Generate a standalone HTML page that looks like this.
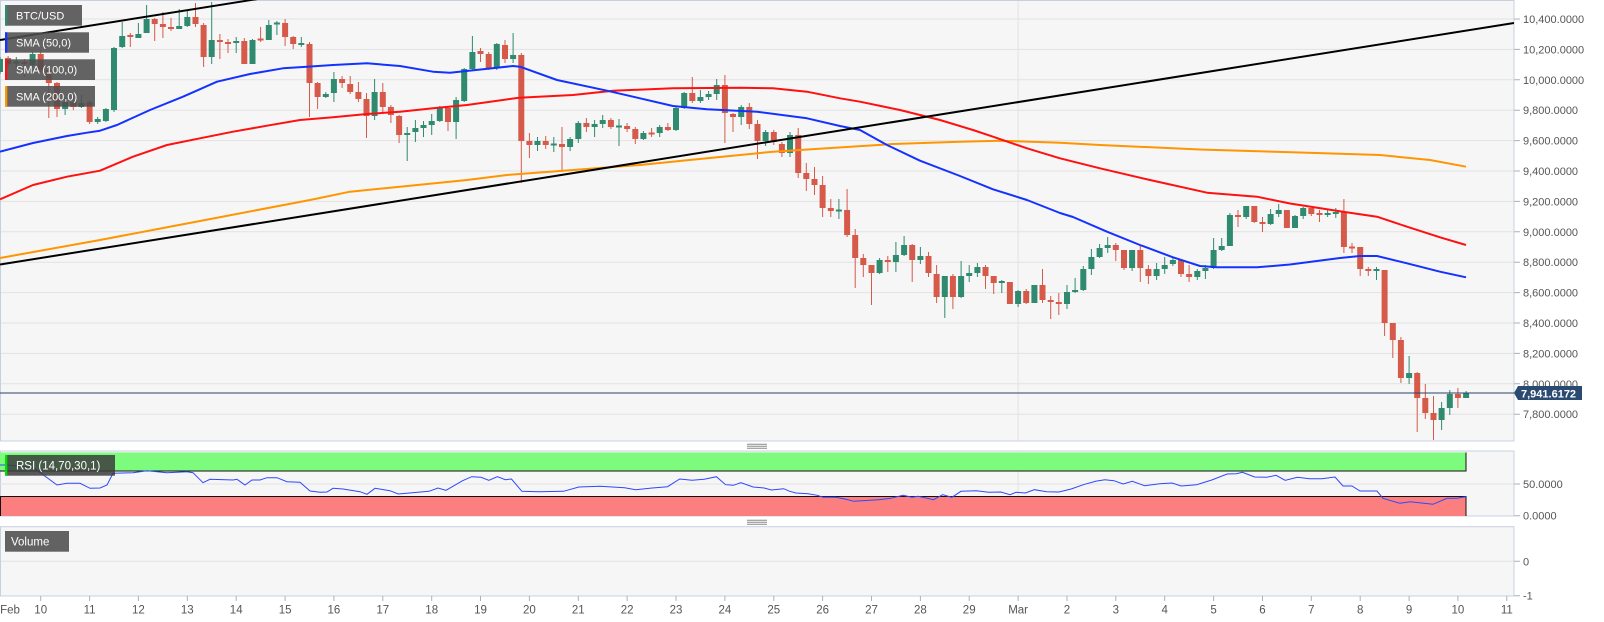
<!DOCTYPE html>
<html><head><meta charset="utf-8"><style>
html,body{margin:0;padding:0;background:#fff;}
svg{display:block;}
text{font-family:"Liberation Sans",Arial,sans-serif;}
</style></head><body>
<svg width="1604" height="622" viewBox="0 0 1604 622" xmlns="http://www.w3.org/2000/svg">
<defs>
<clipPath id="cm"><rect x="0" y="0" width="1514" height="441"/></clipPath>
<clipPath id="cr"><rect x="0" y="451" width="1514" height="65"/></clipPath>
</defs>
<rect x="0" y="0" width="1604" height="622" fill="#fff"/>
<!-- main pane -->
<rect x="0.5" y="0.5" width="1513.5" height="440.5" fill="#f6f6f6" stroke="#c8d0e0"/>
<g stroke="#e2e2e2" stroke-width="1">
<path d="M1 19H1514M1 49.4H1514M1 79.8H1514M1 110.2H1514M1 140.6H1514M1 171H1514M1 201.4H1514M1 231.8H1514M1 262.2H1514M1 292.6H1514M1 323H1514M1 353.4H1514M1 383.8H1514M1 414.2H1514"/>
<path d="M1018.1 1V441M1018.1 451V516M1018.1 527V596"/>
</g>
<g clip-path="url(#cm)">
<path fill="none" stroke="#2f8a6f" stroke-width="1" d="M0 57V74M16.3 57V68M32.6 52V67M65.1 97V115M81.4 95V108M97.7 117V124M105.9 108V122M114 47V112M122.2 22V48M138.4 23V38M146.6 5V33M179.2 9V29M187.3 10V27M211.7 2V64M236.2 37V53M252.5 39V64M268.8 20V40M276.9 21V35M301.3 37V47M325.8 92V98M333.9 72V102M374.6 79V120M407.2 127V161M415.4 120V142M423.5 121V137M431.7 114V135M439.8 106V122M456.1 97V139M464.2 68V102M472.4 36V71M496.8 43V70M513.1 33V63M537.5 137V151M553.8 137V152M570.1 137V151M578.3 121V143M594.6 120V137M602.7 115V128M619 119V146M643.4 131V140M659.7 125V137M676 107V131M684.2 92V109M700.4 90V103M708.6 91V100M716.7 79V100M741.2 105V125M765.6 130V146M790 132V157M838.9 199V219M879.6 258V274M895.9 242V272M904.1 236V256M920.4 247V264M944.8 276V318M961.1 261V298M969.2 265V282M977.4 263V277M1001.8 280V293M1018.1 290V307M1034.4 285V303M1067 285V309M1075.1 278V293M1083.3 266V291M1091.4 249V275M1099.6 244V258M1107.7 237V253M1132.1 250V271M1156.6 263V280M1164.7 257V274M1172.9 257V266M1197.3 269V280M1205.4 265V279M1213.6 238V269M1221.7 238V251M1229.9 213V246M1246.2 206V219M1270.6 209V225M1278.7 204V217M1295 215V228M1303.2 207V219M1327.6 209V217M1335.8 208V218M1376.5 267V280M1409.1 356V384M1441.6 402V430M1449.8 390V415M1466.1 391V398"/>
<path fill="none" stroke="#2f8a6f" stroke-width="6" d="M0 59V72M16.3 61.5V63.5M32.6 54V65M65.1 102V109M81.4 103V107M97.7 119V122M105.9 109V121M114 48V110M122.2 36V47M138.4 34V38M146.6 19V33M179.2 26V29M187.3 17V26M211.7 40V57M236.2 41V43M252.5 40V64M268.8 25V40M276.9 22.5V24.5M301.3 43V45M325.8 94V97M333.9 79V93M374.6 92V116M407.2 133V135M415.4 128V132M423.5 125V128M431.7 121V125M439.8 108V121M456.1 100V122M464.2 69V101M472.4 52V69M496.8 44V68M513.1 55V59M537.5 141V145M553.8 143.5V145.5M570.1 139V147M578.3 123V139M594.6 124V127M602.7 120V124M619 125.5V127.5M643.4 133V139M659.7 127V133M676 108V130M684.2 93V108M700.4 97V101M708.6 94V97M716.7 85V94M741.2 107V117M765.6 132V141M790 135V153M838.9 209.5V211.5M879.6 260V273M895.9 255V262M904.1 245V255M920.4 256V260M944.8 276V297M961.1 276V297M969.2 273V276M977.4 267V273M1001.8 281V283M1018.1 291V304M1034.4 285V303M1067 292V304M1075.1 290V292M1083.3 269V290M1091.4 257V269M1099.6 248V257M1107.7 245V248M1132.1 250V268M1156.6 269V276M1164.7 265V269M1172.9 260V264M1197.3 271V277M1205.4 268V271M1213.6 250V268M1221.7 246V250M1229.9 215V246M1246.2 206V217M1270.6 214V224M1278.7 210V214M1295 216V228M1303.2 208V216M1327.6 213V215M1335.8 212V214M1376.5 269V271M1409.1 373V378M1441.6 408V420M1449.8 394V408M1466.1 393V398"/>
<path fill="none" stroke="#d65a4a" stroke-width="1" d="M8.1 56V67M24.4 59V77M40.7 50V72M48.8 68V118M57 82V117M73.3 97V110M89.6 100V124M130.3 33V47M154.7 18V41M162.9 12V38M171 18V31M195.5 3V27M203.6 23V67M219.9 34V59M228 39V53M244.3 38V64M260.6 27V42M285.1 19V46M293.2 36V49M309.5 42V117M317.6 82V109M342.1 76V88M350.2 76V94M358.4 82V102M366.5 93V138M382.8 83V114M390.9 105V123M399.1 115V143M448 106V131M480.5 48V62M488.7 52V70M505 40V63M521.3 53V183M529.4 133V158M545.7 136V149M562 127V172M586.4 118V132M610.9 118V129M627.1 123V132M635.3 127V144M651.6 128V137M667.9 123V131M692.3 77V103M724.9 75V143M733 113V132M749.3 103V129M757.5 120V159M773.8 130V145M781.9 142V157M798.2 128V178M806.3 163V191M814.5 167V195M822.6 176V217M830.8 199V217M847.1 189V237M855.2 229V288M863.3 254V277M871.5 265V305M887.8 256V272M912.2 244V282M928.5 252V277M936.6 265V303M952.9 274V309M985.5 265V289M993.7 276V294M1009.9 282V304M1026.2 289V304M1042.5 269V303M1050.7 296V319M1058.8 293V315M1115.8 243V261M1124 250V270M1140.3 245V282M1148.4 265V284M1181 259V277M1189.1 265V282M1238 210V227M1254.3 206V223M1262.5 217V232M1286.9 210V228M1311.3 208V216M1319.5 210V222M1343.9 199V253M1352 243V253M1360.2 247V276M1368.3 267V276M1384.6 270V336M1392.8 323V358M1400.9 337V383M1417.2 372V432M1425.3 384V419M1433.5 396V440M1457.9 388V408"/>
<path fill="none" stroke="#d65a4a" stroke-width="6" d="M8.1 58V64M24.4 62V64M40.7 54V70M48.8 70V83M57 83V109M73.3 102V107M89.6 102V122M130.3 35V37M154.7 19V24M162.9 24V27M171 27V29M195.5 17V24M203.6 25V57M219.9 40V42M228 42V44M244.3 41V64M260.6 38.5V40.5M285.1 23V37M293.2 37V44M309.5 44V83M317.6 83V97M342.1 79V83M350.2 84V92M358.4 92V99M366.5 99V116M382.8 92V107M390.9 107V115M399.1 116V135M448 108V122M480.5 51V54M488.7 54V68M505 45V59M521.3 55V141M529.4 141V145M545.7 141V145M562 144V147M586.4 123V127M610.9 120V127M627.1 126V129M635.3 129V139M651.6 132.5V134.5M667.9 127V130M692.3 93V101M724.9 85V113M733 114V117M749.3 107V124M757.5 124V141M773.8 132V142M781.9 144V153M798.2 135V173M806.3 173V179M814.5 179V185M822.6 185V208M830.8 208V211M847.1 210V235M855.2 235V258M863.3 258V265M871.5 265V273M887.8 260V262M912.2 245V260M928.5 256V273M936.6 274V297M952.9 276V297M985.5 267V276M993.7 276V283M1009.9 282V304M1026.2 291V303M1042.5 285V300M1050.7 300V302M1058.8 302V304M1115.8 245V250M1124 250V268M1140.3 250V268M1148.4 269V276M1181 260V274M1189.1 274V277M1238 215V217M1254.3 206V222M1262.5 222V224M1286.9 210V228M1311.3 208V214M1319.5 213V215M1343.9 212V247M1352 246.5V248.5M1360.2 247V269M1368.3 269V271M1384.6 270V323M1392.8 323V340M1400.9 340V378M1417.2 373V398M1425.3 398V413M1433.5 413V420M1457.9 394V398"/>
<!-- SMA lines -->
<polyline fill="none" stroke="#ff9500" stroke-width="2" stroke-linejoin="round" points="0,258 100,240 200,221 310,200 350,191.7 400,186.7 467,180 507,175 573,170 640,165 707,158.3 773,151.7 827,148.3 893,144 960,141.7 1000,140.7 1060,142.7 1100,145 1200,149.5 1300,152.5 1380,155 1430,160 1466,166.7"/>
<polyline fill="none" stroke="#ff1010" stroke-width="2" stroke-linejoin="round" points="0,199.3 33,185 67,176.7 100,170.7 133,156.7 167,145 200,138.3 233,131.7 267,125.7 300,120 333,117.3 367,114 400,111.7 433,108.3 467,105 519,97.7 573,95 613,90.7 673,88.3 740,87.7 773,88.3 807,91.7 840,98.3 860,101.7 900,110 940,120 973,130 993,136.7 1027,148.3 1060,158.3 1100,168.3 1150,180 1207,192.7 1257,196.7 1290,203.5 1343,211.7 1377,216.7 1407,226.7 1440,237.3 1466,245"/>
<polyline fill="none" stroke="#1432ff" stroke-width="2" stroke-linejoin="round" points="0,151.7 33,143 67,136 87,132.7 100,130.7 117,125 150,110 183,96.7 217,81.7 250,74 283,68.3 307,66.7 333,65 367,63.3 400,66 433,71.7 450,72.7 483,69.3 513,66 520,66.7 557,80 607,90.7 640,98.3 673,106 707,109.3 757,111.7 807,118.3 840,126 860,130 887,145 920,160.7 960,176 993,189.3 1027,200 1060,213 1073,217 1107,231.7 1140,245 1173,257.3 1200,266 1217,267.3 1257,267.3 1290,264.5 1340,258 1360,256 1377,256 1407,263.3 1440,271.7 1466,277.3"/>
<!-- trend lines -->
<line x1="0" y1="264.5" x2="1514" y2="23" stroke="#000" stroke-width="2"/>
<line x1="0" y1="40" x2="262" y2="-1.7" stroke="#000" stroke-width="2"/>
<!-- current price line -->
<line x1="0" y1="393" x2="1514" y2="393" stroke="#2a4368" stroke-width="1"/>
</g>
<!-- legends -->
<rect x="5" y="5" width="77" height="20.7" fill="rgba(78,78,78,0.88)"/>
<rect x="5" y="5" width="2.3" height="20.7" fill="#2f8a6f"/>
<text x="16" y="19.3" font-size="11" fill="#fff">BTC/USD</text>
<rect x="5" y="32.3" width="84" height="20.4" fill="rgba(78,78,78,0.88)"/>
<rect x="5" y="32.3" width="2.3" height="20.4" fill="#1432ff"/>
<text x="16" y="46.5" font-size="11" fill="#fff">SMA (50,0)</text>
<rect x="5" y="59.3" width="90" height="20.7" fill="rgba(78,78,78,0.88)"/>
<rect x="5" y="59.3" width="2.3" height="20.7" fill="#ff1010"/>
<text x="16" y="73.6" font-size="11" fill="#fff">SMA (100,0)</text>
<rect x="5" y="86" width="90" height="20.7" fill="rgba(78,78,78,0.88)"/>
<rect x="5" y="86" width="2.3" height="20.7" fill="#ff9500"/>
<text x="16" y="100.3" font-size="11" fill="#fff">SMA (200,0)</text>
<!-- pane handles -->
<path d="M747 444.3H767M747 446.3H767M747 448.3H767M747 520.3H767M747 522.3H767M747 524.3H767" stroke="#8a8a8a" stroke-width="1"/>
<!-- RSI pane -->
<rect x="0.5" y="451" width="1513.5" height="65" fill="#f6f6f6" stroke="#c8d0e0"/>
<g clip-path="url(#cr)">
<line x1="0" y1="484" x2="1514" y2="484" stroke="#e2e2e2"/>
<line x1="1018.1" y1="451" x2="1018.1" y2="516" stroke="#e2e2e2"/>
<rect x="0" y="452.5" width="1466" height="18.5" fill="#7dfb7d"/>
<rect x="0" y="496.5" width="1466" height="20" fill="#fb7f7f"/>
<path d="M0 471H1466V452.5M0 496.5H1466V516M0.5 496.5V516" fill="none" stroke="#111" stroke-width="1"/>
<polyline fill="none" stroke="#2c48ff" stroke-width="1" points="0,465 7,465 33,467.3 57,485 67,483.3 80,483.3 90,488.3 100,488 107,485 113,473.3 133,472.7 147,470.7 167,472.7 187,471.7 193,472.7 203,482.7 210,479.3 233,480 237,479.3 245,485 252,480 260,480 267,477.7 277,477.7 287,481.7 300,482.3 310,491 320,492.3 327,492 333,488.3 343,489 360,491.7 367,494.3 375,488.3 390,490.7 398.3,494 429,491.3 438,488 446,490.3 462.6,480.7 471.7,476.7 481,477.3 488.9,480.3 497.4,476.7 505.4,479.7 511.5,479 521.9,491.3 539,491.7 563.5,491.3 578.8,487 600.2,486.3 624.6,487.7 635.7,489.7 652.2,488 667.5,486.7 679.7,479 692,480.3 704.2,479.3 716.4,476.7 725.6,484.7 733.5,485.3 740.9,482.7 753.1,487 764.1,488 771.4,490 783.7,488.7 789.8,491.3 795.9,493 808.1,493.7 817.3,495.3 823.4,497.3 835.6,497.3 844.8,499 854,501.3 878.5,499.7 890.7,498.3 903,495.3 912,497.3 918.2,496.3 933.5,499.7 942.7,494.7 951.9,497.3 961,491.3 976.3,490.7 988.6,492.3 1000.8,492 1010,494.7 1016.1,492.3 1025.3,493 1034.4,489.7 1046.7,491.7 1058.9,492 1071.1,489 1083.4,484.7 1095.6,481.3 1104.8,479.7 1114,480.7 1123.1,484 1132.3,481.3 1144.5,485.7 1159.8,483.7 1172,483 1181.2,486 1196.5,484.7 1211.8,480 1227.1,474 1236.3,473.7 1242.4,472.3 1254.6,477 1266.8,477.3 1276,475.3 1285.2,480.3 1297.4,477.3 1309.6,478.7 1321.8,478.7 1335,477 1343,486 1352,486 1360,491 1377,491 1383,498.3 1400,503.3 1410,501.7 1433,504.3 1447,498.3 1457,498.3 1466,496.7"/>
</g>
<rect x="5" y="455" width="110" height="20.7" fill="rgba(60,60,60,0.85)"/>
<rect x="5" y="455" width="2.3" height="20.7" fill="#00e000"/>
<text x="16" y="469.5" font-size="11.5" fill="#fff">RSI (14,70,30,1)</text>
<!-- Volume pane -->
<rect x="0.5" y="526.7" width="1513.5" height="69.3" fill="#f6f6f6" stroke="#c8d0e0"/>
<line x1="1" y1="561.3" x2="1514" y2="561.3" stroke="#e2e2e2"/>
<rect x="5" y="531" width="64" height="20.7" fill="rgba(85,85,85,0.92)"/>
<text x="11" y="545.5" font-size="11.5" fill="#fff">Volume</text>
<!-- right axis ticks -->
<path stroke="#a8b0c4" stroke-width="1" d="M1514 19H1520M1514 49.4H1520M1514 79.8H1520M1514 110.2H1520M1514 140.6H1520M1514 171H1520M1514 201.4H1520M1514 231.8H1520M1514 262.2H1520M1514 292.6H1520M1514 323H1520M1514 353.4H1520M1514 383.8H1520M1514 414.2H1520M1514 484H1520M1514 515.7H1520M1514 561.3H1520M1514 595.7H1520"/>
<g font-size="11" fill="#555">
<text x="1523" y="23">10,400.0000</text>
<text x="1523" y="53.4">10,200.0000</text>
<text x="1523" y="83.8">10,000.0000</text>
<text x="1523" y="114.2">9,800.0000</text>
<text x="1523" y="144.6">9,600.0000</text>
<text x="1523" y="175">9,400.0000</text>
<text x="1523" y="205.4">9,200.0000</text>
<text x="1523" y="235.8">9,000.0000</text>
<text x="1523" y="266.2">8,800.0000</text>
<text x="1523" y="296.6">8,600.0000</text>
<text x="1523" y="327">8,400.0000</text>
<text x="1523" y="357.4">8,200.0000</text>
<text x="1523" y="387.8">8,000.0000</text>
<text x="1523" y="418.2">7,800.0000</text>
<text x="1523" y="488">50.0000</text>
<text x="1523" y="519.7">0.0000</text>
<text x="1523" y="565.3">0</text>
<text x="1523" y="599.7">-1</text>
</g>
<!-- price label -->
<polygon points="1514,393 1518,386 1582,386 1582,400 1518,400" fill="#2b4a72"/>
<text x="1521" y="397.3" font-size="11" font-weight="bold" fill="#fff">7,941.6172</text>
<!-- x axis -->
<path stroke="#a8b0c4" stroke-width="1" d="M40.7 596V601M89.6 596V601M138.4 596V601M187.3 596V601M236.2 596V601M285.1 596V601M333.9 596V601M382.8 596V601M431.7 596V601M480.5 596V601M529.4 596V601M578.3 596V601M627.1 596V601M676 596V601M724.9 596V601M773.8 596V601M822.6 596V601M871.5 596V601M920.4 596V601M969.2 596V601M1018.1 596V601M1067 596V601M1115.8 596V601M1164.7 596V601M1213.6 596V601M1262.5 596V601M1311.3 596V601M1360.2 596V601M1409.1 596V601M1457.9 596V601M1506.8 596V601"/>
<g font-size="11.5" fill="#555" text-anchor="middle">
<text x="10" y="613.5">Feb</text>
<text x="40.7" y="613.5">10</text>
<text x="89.6" y="613.5">11</text>
<text x="138.4" y="613.5">12</text>
<text x="187.3" y="613.5">13</text>
<text x="236.2" y="613.5">14</text>
<text x="285.1" y="613.5">15</text>
<text x="333.9" y="613.5">16</text>
<text x="382.8" y="613.5">17</text>
<text x="431.7" y="613.5">18</text>
<text x="480.5" y="613.5">19</text>
<text x="529.4" y="613.5">20</text>
<text x="578.3" y="613.5">21</text>
<text x="627.1" y="613.5">22</text>
<text x="676" y="613.5">23</text>
<text x="724.9" y="613.5">24</text>
<text x="773.8" y="613.5">25</text>
<text x="822.6" y="613.5">26</text>
<text x="871.5" y="613.5">27</text>
<text x="920.4" y="613.5">28</text>
<text x="969.2" y="613.5">29</text>
<text x="1018.1" y="613.5">Mar</text>
<text x="1067" y="613.5">2</text>
<text x="1115.8" y="613.5">3</text>
<text x="1164.7" y="613.5">4</text>
<text x="1213.6" y="613.5">5</text>
<text x="1262.5" y="613.5">6</text>
<text x="1311.3" y="613.5">7</text>
<text x="1360.2" y="613.5">8</text>
<text x="1409.1" y="613.5">9</text>
<text x="1457.9" y="613.5">10</text>
<text x="1506.8" y="613.5">11</text>
</g>
</svg>
</body></html>
